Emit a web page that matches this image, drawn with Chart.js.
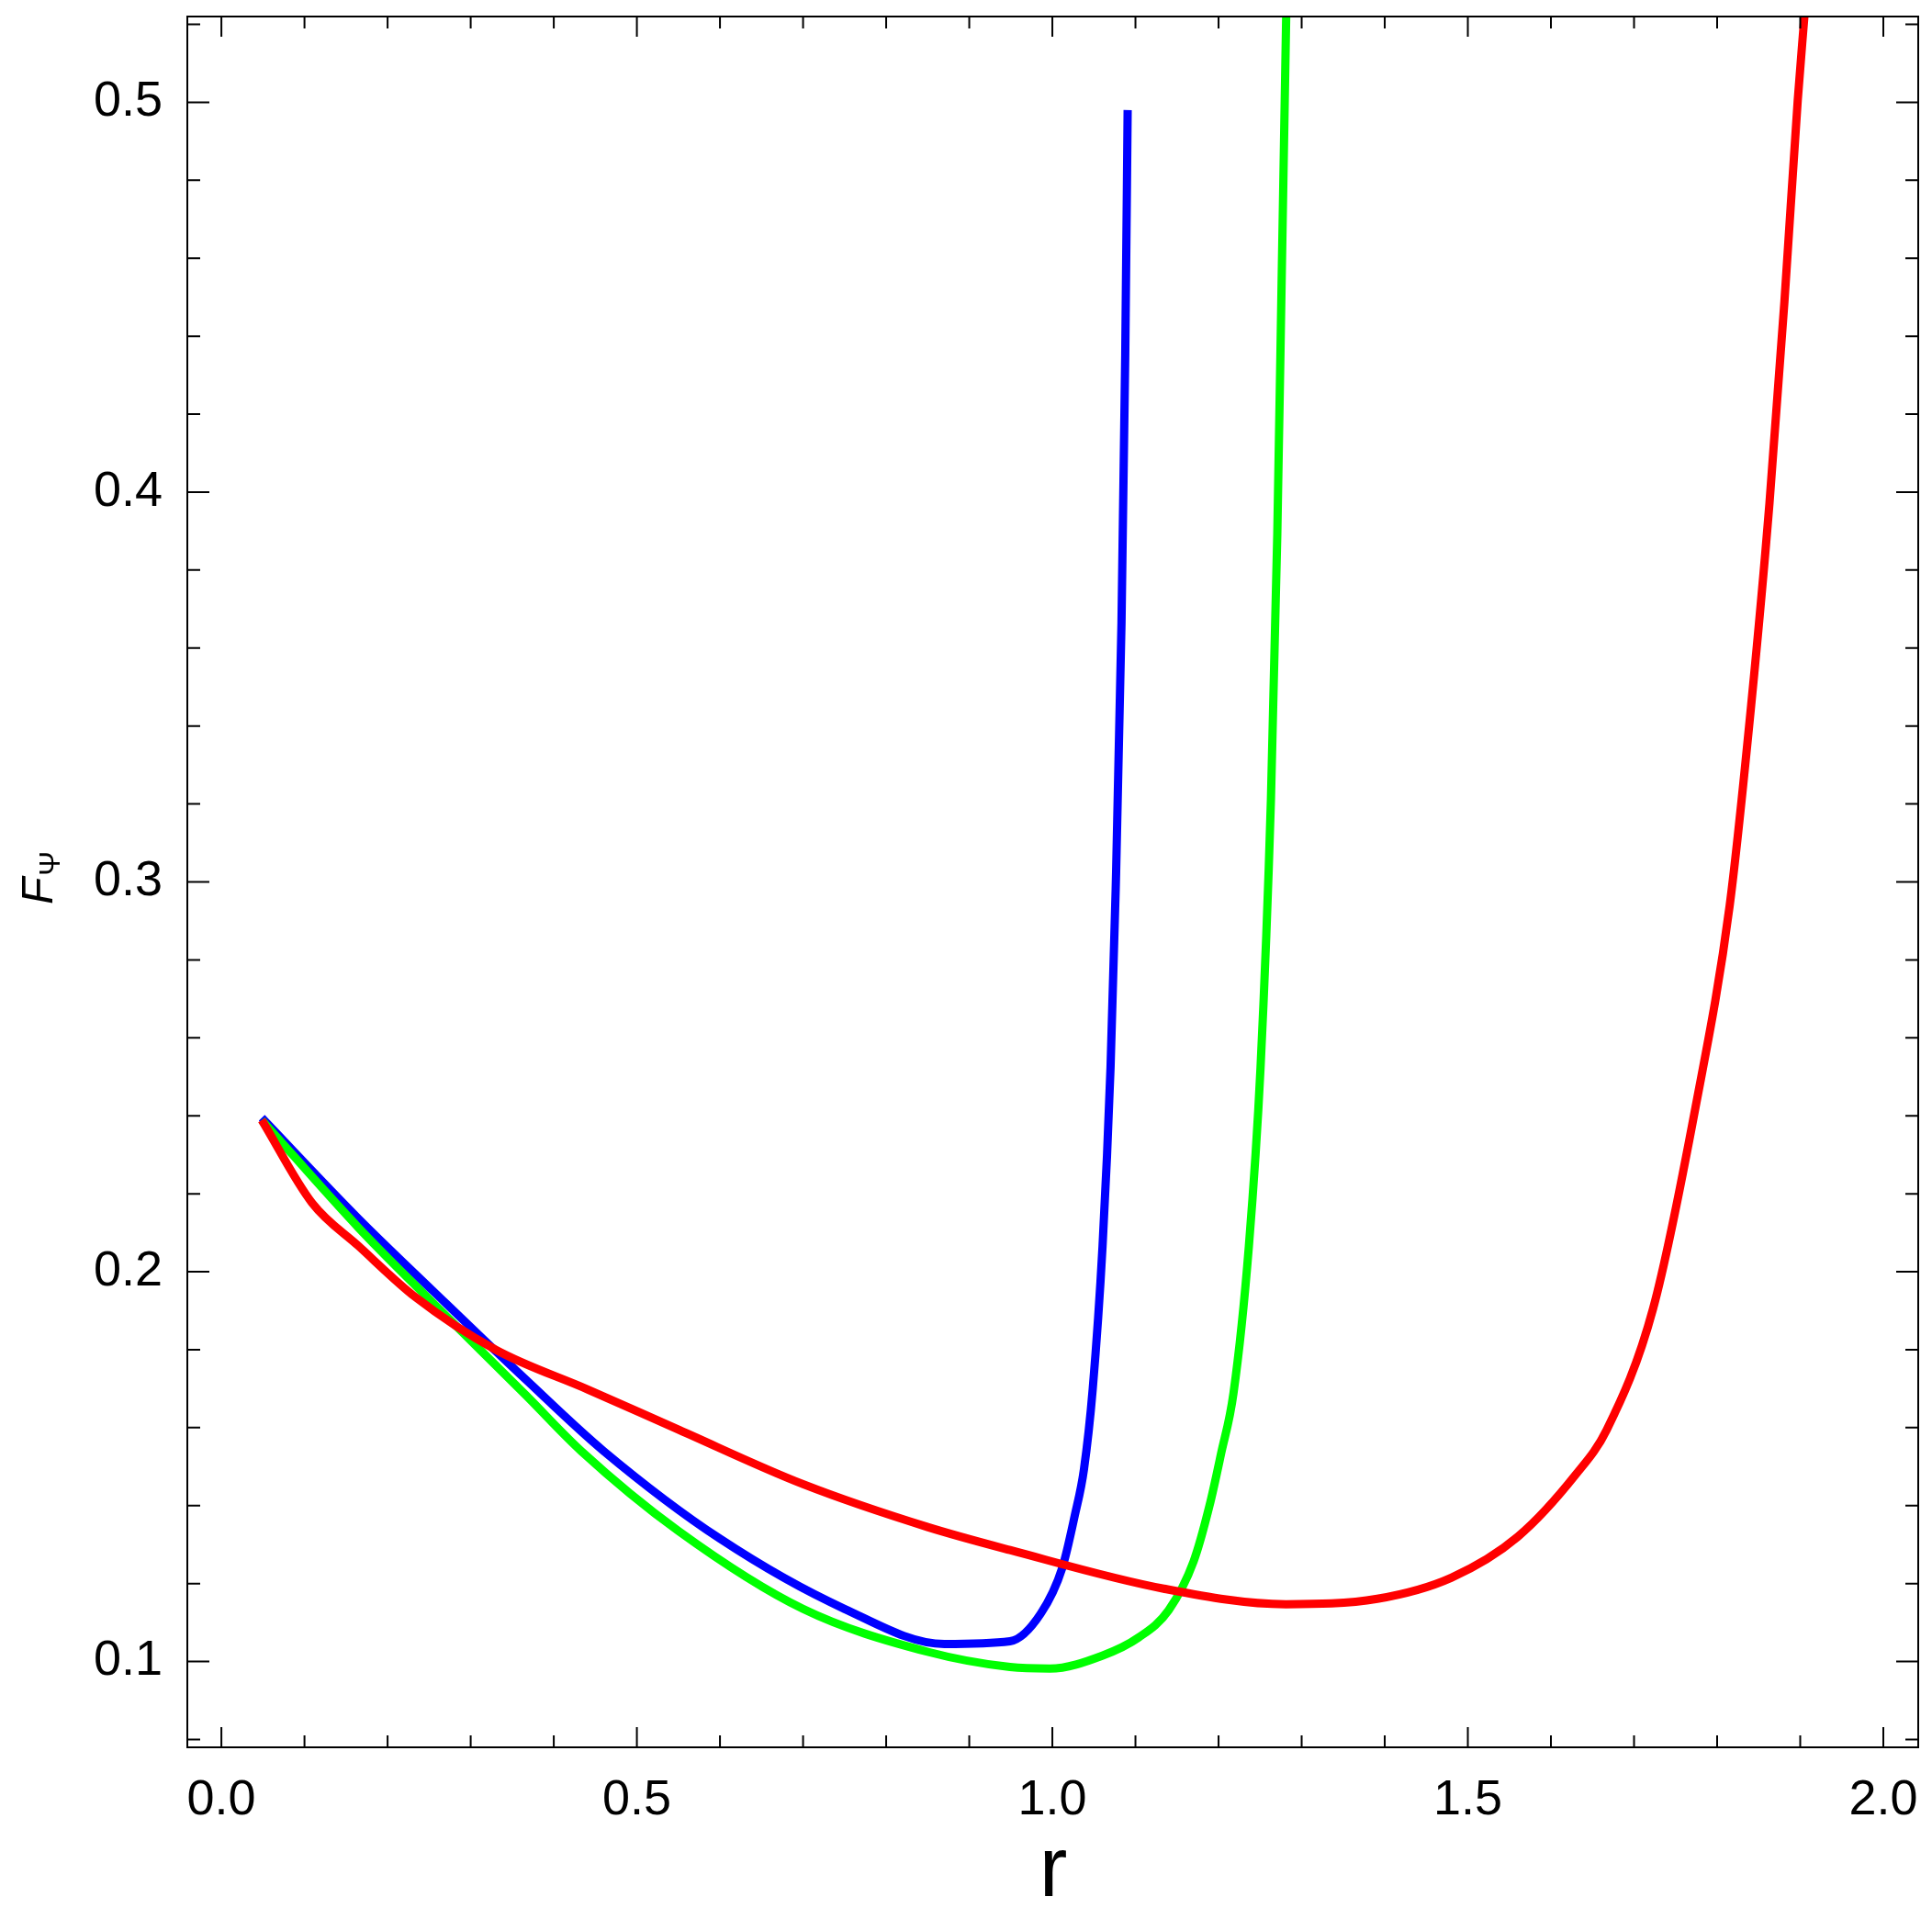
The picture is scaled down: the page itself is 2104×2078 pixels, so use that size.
<!DOCTYPE html>
<html><head><meta charset="utf-8">
<script src="https://cdn.jsdelivr.net/npm/chart.js@4.4.0/dist/chart.umd.min.js"></script>
<style>html,body{margin:0;padding:0;background:#fff}#wrap{width:2104px;height:2078px}</style>
</head><body><div id="wrap"><canvas id="c" width="2104" height="2078"></canvas></div>
<script>
const redR   = [0.0486,0.109,0.165,0.234,0.330,0.441,0.551,0.70,0.85,0.949,1.134,1.281,1.391,1.48,1.56,1.63,1.667,1.723,1.774,1.815,1.841,1.863,1.881,1.897,1.905];
const redF   = [0.2389,0.2177,0.2066,0.1934,0.180,0.1698,0.1594,0.1455,0.1345,0.1286,0.1187,0.1147,0.1161,0.1215,0.1320,0.1480,0.1594,0.1906,0.2422,0.2938,0.3454,0.3972,0.4489,0.5005,0.522];
const greenR = [0.0486,0.165,0.256,0.367,0.433,0.55,0.70,0.85,0.949,0.997,1.060,1.104,1.140,1.170,1.189,1.203,1.218,1.2365,1.2505,1.263,1.2707,1.2762,1.2814];
const greenF = [0.2389,0.2113,0.1917,0.1682,0.154,0.1335,0.1135,0.1025,0.0986,0.0982,0.1015,0.1062,0.1132,0.1257,0.1399,0.1533,0.1689,0.2066,0.2523,0.3209,0.3892,0.4578,0.522];
const blueR  = [0.0486,0.165,0.256,0.367,0.460,0.60,0.75,0.87,0.949,0.986,1.012,1.027,1.038,1.0486,1.0604,1.070,1.0762,1.0832,1.0877,1.0906];
const blueF  = [0.2395,0.2136,0.1948,0.1722,0.154,0.1315,0.1135,0.1045,0.1052,0.1123,0.1241,0.1375,0.1493,0.170,0.2066,0.2523,0.298,0.3664,0.435,0.498];
const xTicks = [0.0,0.5,1.0,1.5,2.0];
const yTicks = [0.1,0.2,0.3,0.4,0.5];
const xMinor = [0,0.1,0.2,0.3,0.4,0.5,0.6,0.7,0.8,0.9,1.0,1.1,1.2,1.3,1.4,1.5,1.6,1.7,1.8,1.9,2.0];
const yMinor = [0.08,0.1,0.12,0.14,0.16,0.18,0.2,0.22,0.24,0.26,0.28,0.3,0.32,0.34,0.36,0.38,0.4,0.42,0.44,0.46,0.48,0.5,0.52];

const pts = (xs, ys) => xs.map((x, i) => ({x, y: ys[i]}));
const ds = (xs, ys, c) => ({data: pts(xs, ys), borderColor: c, borderWidth: 9, pointRadius: 0, cubicInterpolationMode: 'monotone', fill: false, borderCapStyle: 'butt'});

const frame = {
  id: 'frame',
  afterDatasetsDraw(chart) {
    const {ctx, chartArea: a, scales: {x, y}} = chart;
    ctx.save();
    ctx.strokeStyle = '#000'; ctx.lineWidth = 2;
    ctx.strokeRect(a.left, a.top, a.right - a.left, a.bottom - a.top);
    ctx.beginPath();
    xMinor.forEach(v => {
      const p = x.getPixelForValue(v);
      const major = xTicks.some(t => Math.abs(t - v) < 1e-9);
      const L = major ? 22 : 13;
      ctx.moveTo(p, a.bottom); ctx.lineTo(p, a.bottom - L);
      ctx.moveTo(p, a.top); ctx.lineTo(p, a.top + L);
    });
    yMinor.forEach(v => {
      const p = y.getPixelForValue(v);
      const major = yTicks.some(t => Math.abs(t - v) < 1e-9);
      const L = major ? 24 : 14;
      ctx.moveTo(a.left, p); ctx.lineTo(a.left + L, p);
      ctx.moveTo(a.right, p); ctx.lineTo(a.right - L, p);
    });
    ctx.stroke();
    ctx.fillStyle = '#000';
    // x title
    ctx.textAlign = 'center'; ctx.textBaseline = 'alphabetic';
    ctx.font = '92px "Liberation Sans", Arial, sans-serif';
    ctx.fillText('r', 1147, 2065);
    // y title F_Ψ
    ctx.translate(57, 985);
    ctx.rotate(-Math.PI / 2);
    ctx.textAlign = 'left';
    ctx.font = 'italic 48px "Liberation Sans", Arial, sans-serif';
    ctx.fillText('F', 0, 0);
    const w = ctx.measureText('F').width;
    ctx.font = '32px "Liberation Sans", Arial, sans-serif';
    ctx.fillText('Ψ', w + 2, 8);
    ctx.restore();
  }
};

new Chart(document.getElementById('c'), {
  type: 'line',
  data: {datasets: [ds(redR, redF, '#ff0000'), ds(greenR, greenF, '#00ff00'), ds(blueR, blueF, '#0000ff')]},
  options: {
    responsive: false, animation: false, devicePixelRatio: 1,
    layout: {padding: {top: 18, right: 15, left: 0, bottom: 0}},
    plugins: {legend: {display: false}, tooltip: {enabled: false}},
    scales: {
      x: {type: 'linear', min: -0.041, max: 2.042,
        afterBuildTicks: s => { s.ticks = xTicks.map(v => ({value: v})); },
        afterFit: s => { s.height = 175; s.paddingLeft = 0; s.paddingRight = 0; },
        grid: {display: false}, border: {display: false},
        ticks: {callback: v => v.toFixed(1), color: '#000', padding: 18, font: {size: 54, family: '"Liberation Sans", Arial, sans-serif'}}
      },
      y: {type: 'linear', min: 0.078, max: 0.522,
        afterBuildTicks: s => { s.ticks = yTicks.map(v => ({value: v})); },
        afterFit: s => { s.width = 204; s.paddingTop = 0; s.paddingBottom = 0; },
        grid: {display: false}, border: {display: false},
        ticks: {callback: v => v.toFixed(1), color: '#000', padding: 19, font: {size: 54, family: '"Liberation Sans", Arial, sans-serif'}}
      }
    }
  },
  plugins: [frame]
});
</script></body></html>
